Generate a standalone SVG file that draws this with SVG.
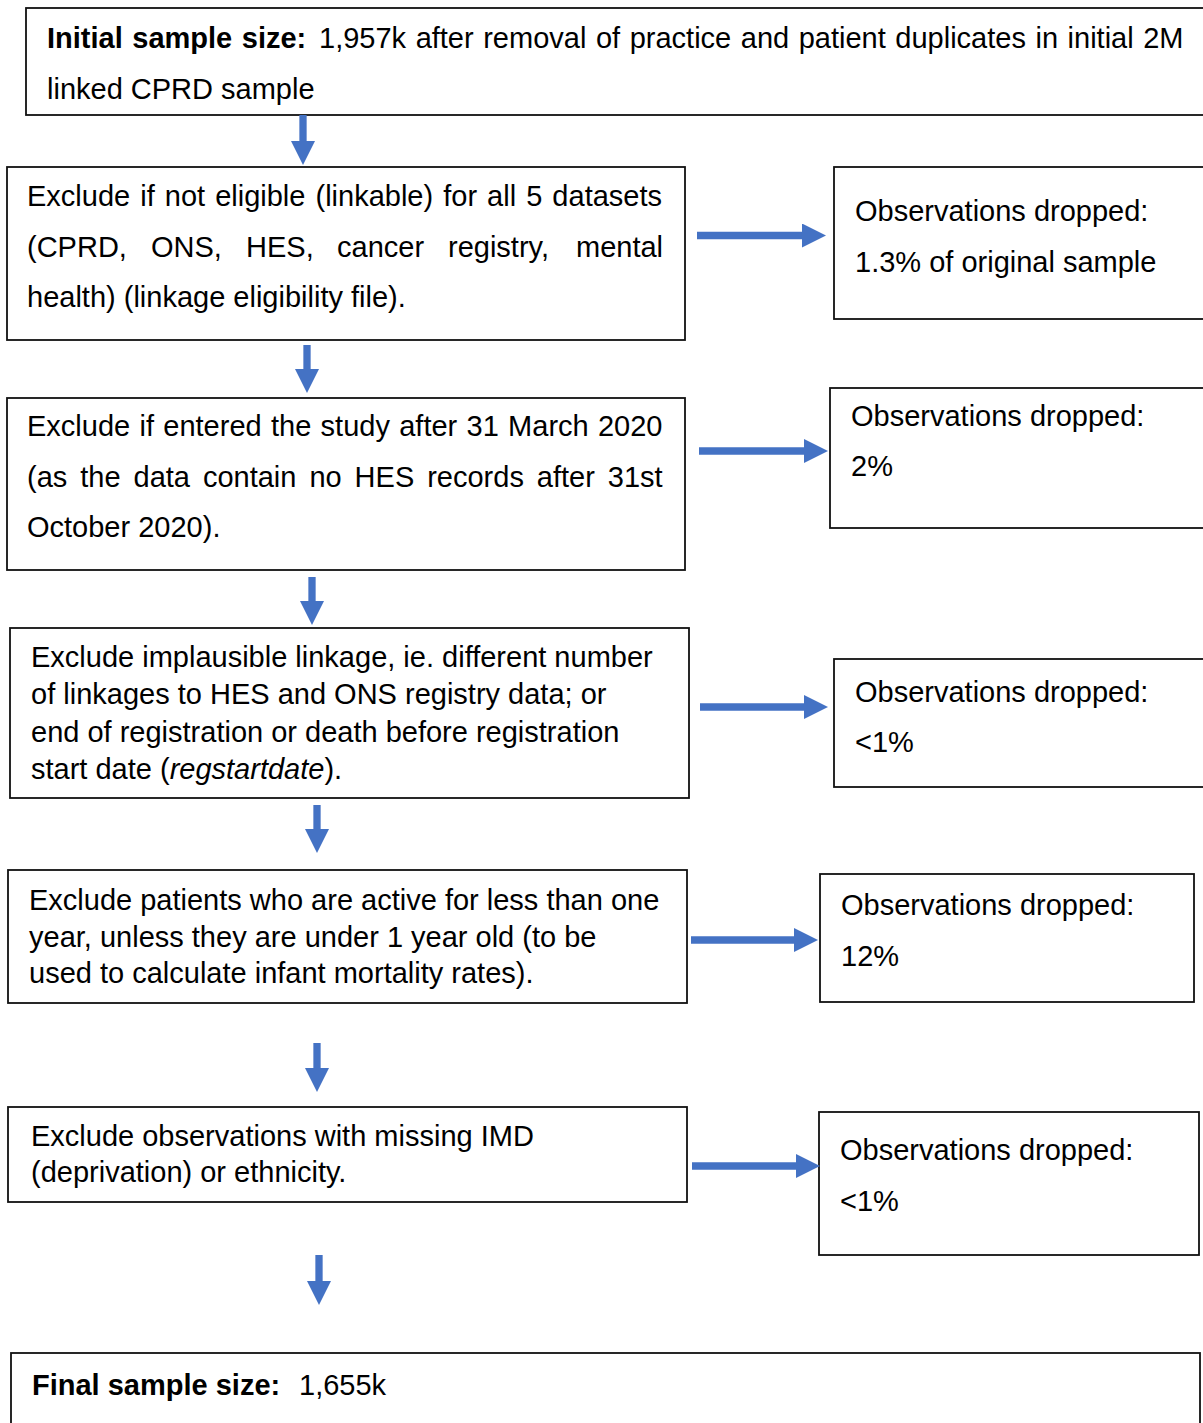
<svg xmlns="http://www.w3.org/2000/svg" width="1203" height="1423" viewBox="0 0 1203 1423">
  <style>
    .box { fill: #ffffff; stroke: #111111; stroke-width: 1.8; }
    .txt { font-family: "Liberation Sans", Arial, sans-serif; font-size: 29px; fill: #000000; }
    .b { font-weight: bold; }
    .it { font-style: italic; }
    .arrow { stroke: #4472C4; stroke-width: 7.3; fill: none; marker-end: url(#head); }
  </style>
  <defs>
    <marker id="head" markerUnits="userSpaceOnUse" markerWidth="24" markerHeight="24" viewBox="0 0 24 24" refX="0" refY="12" orient="auto">
      <path d="M0,0 L24,12 L0,24 Z" fill="#4472C4"/>
    </marker>
  </defs>

  <rect width="1203" height="1423" fill="#ffffff"/>

  <!-- Main flow -->
  <g id="initial-sample">
    <rect class="box" x="26" y="8" width="1190" height="107"/>
    <text class="txt" x="47" y="48" word-spacing="1.5"><tspan class="b">Initial sample size:</tspan><tspan x="319">1,957k after removal of practice and patient duplicates in initial 2M</tspan></text>
    <text class="txt" x="47" y="99">linked CPRD sample</text>
  </g>

  <g id="step-linkable">
    <rect class="box" x="7" y="167" width="678" height="173"/>
    <text class="txt" x="27" y="206" word-spacing="2">Exclude if not eligible (linkable) for all 5 datasets</text>
    <text class="txt" y="257"><tspan x="27">(CPRD,</tspan><tspan x="151">ONS,</tspan><tspan x="246">HES,</tspan><tspan x="337">cancer</tspan><tspan x="448">registry,</tspan><tspan x="576">mental</tspan></text>
    <text class="txt" x="27" y="307">health) (linkage eligibility file).</text>
  </g>

  <g id="step-entry-date">
    <rect class="box" x="7" y="398" width="678" height="172"/>
    <text class="txt" x="27" y="436" word-spacing="1.25">Exclude if entered the study after 31 March 2020</text>
    <text class="txt" x="27" y="487" word-spacing="4.9">(as the data contain no HES records after 31st</text>
    <text class="txt" x="27" y="537">October 2020).</text>
  </g>

  <g id="step-implausible">
    <rect class="box" x="10" y="628" width="679" height="170"/>
    <text class="txt" x="31" y="667">Exclude implausible linkage, ie. different number</text>
    <text class="txt" x="31" y="704">of linkages to HES and ONS registry data; or</text>
    <text class="txt" x="31" y="742">end of registration or death before registration</text>
    <text class="txt" x="31" y="779">start date (<tspan class="it">regstartdate</tspan>).</text>
  </g>

  <g id="step-active">
    <rect class="box" x="8" y="870" width="679" height="133"/>
    <text class="txt" x="29" y="910">Exclude patients who are active for less than one</text>
    <text class="txt" x="29" y="947">year, unless they are under 1 year old (to be</text>
    <text class="txt" x="29" y="983">used to calculate infant mortality rates).</text>
  </g>

  <g id="step-missing">
    <rect class="box" x="8" y="1107" width="679" height="95"/>
    <text class="txt" x="31" y="1146">Exclude observations with missing IMD</text>
    <text class="txt" x="31" y="1182">(deprivation) or ethnicity.</text>
  </g>

  <g id="final-sample">
    <rect class="box" x="11" y="1353" width="1189" height="90"/>
    <text class="txt" x="32" y="1395"><tspan class="b">Final sample size:</tspan><tspan x="299">1,655k</tspan></text>
  </g>

  <!-- Dropped observations -->
  <g id="drop-linkable">
    <rect class="box" x="834" y="167" width="380" height="152"/>
    <text class="txt" x="855" y="221">Observations dropped:</text>
    <text class="txt" x="855" y="272">1.3% of original sample</text>
  </g>

  <g id="drop-entry-date">
    <rect class="box" x="830" y="388" width="385" height="140"/>
    <text class="txt" x="851" y="426">Observations dropped:</text>
    <text class="txt" x="851" y="476">2%</text>
  </g>

  <g id="drop-implausible">
    <rect class="box" x="834" y="659" width="380" height="128"/>
    <text class="txt" x="855" y="702">Observations dropped:</text>
    <text class="txt" x="855" y="752">&lt;1%</text>
  </g>

  <g id="drop-active">
    <rect class="box" x="820" y="874" width="374" height="128"/>
    <text class="txt" x="841" y="915">Observations dropped:</text>
    <text class="txt" x="841" y="966">12%</text>
  </g>

  <g id="drop-missing">
    <rect class="box" x="819" y="1112" width="380" height="143"/>
    <text class="txt" x="840" y="1160">Observations dropped:</text>
    <text class="txt" x="840" y="1211">&lt;1%</text>
  </g>

  <!-- Connectors -->
  <g id="connectors">
    <line class="arrow" x1="303" y1="115" x2="303" y2="141"/>
    <line class="arrow" x1="307" y1="345" x2="307" y2="369"/>
    <line class="arrow" x1="312" y1="577" x2="312" y2="601"/>
    <line class="arrow" x1="317" y1="805" x2="317" y2="829"/>
    <line class="arrow" x1="317" y1="1043" x2="317" y2="1068"/>
    <line class="arrow" x1="319" y1="1255" x2="319" y2="1281"/>

    <line class="arrow" x1="697" y1="235.5" x2="802" y2="235.5"/>
    <line class="arrow" x1="699" y1="451" x2="804" y2="451"/>
    <line class="arrow" x1="700" y1="707" x2="804" y2="707"/>
    <line class="arrow" x1="691" y1="940" x2="794" y2="940"/>
    <line class="arrow" x1="692" y1="1166" x2="796" y2="1166"/>
  </g>
</svg>
